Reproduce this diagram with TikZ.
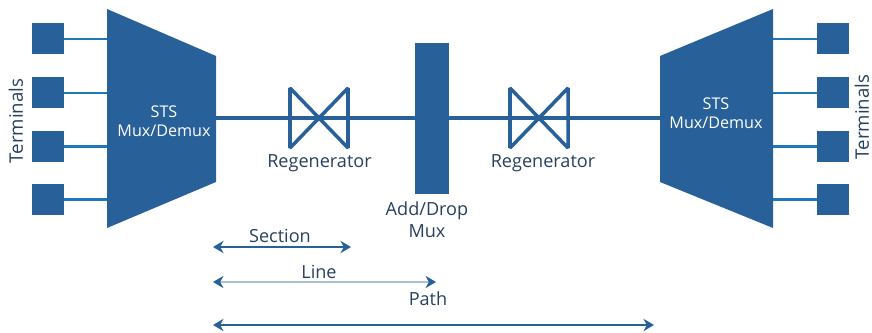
\documentclass[tikz,border=0pt]{standalone}
\usepackage{fontspec}
\setmainfont{Open Sans}
\usetikzlibrary{arrows.meta, positioning}
\definecolor{sonetblue}{HTML}{28609A}
\definecolor{termblue}{HTML}{1F78BC}
\definecolor{textgrey}{HTML}{27405E}
\begin{document}
\begin{tikzpicture}[x=0.02cm, y=-0.02cm]
	\useasboundingbox (0,0) rectangle (872,333);

	% styles for all parts
	\tikzset{
		every node/.style={font=\fontsize{10.3pt}{12pt}\selectfont, text=textgrey, inner sep=0pt},
		termbox/.style={fill=sonetblue, minimum width=0.64cm, minimum height=0.62cm},
		termline/.style={line width=1.2pt, termblue},
		mainline/.style={line width=2pt, sonetblue},
		spanline/.style={sonetblue, {Stealth[length=6pt, width=7pt]}-{Stealth[length=6pt, width=7pt]}},
		muxlabel/.style={text=white, align=center, font=\fontsize{9.2pt}{11pt}\selectfont},
	}

	% multiplexers
	\coordinate (muxlin) at (107,118);
	\coordinate (muxlout) at (216,118);
	\coordinate (muxrin) at (660,118);
	\coordinate (muxrout) at (773,118);
	\fill[sonetblue] (107,9) -- (216,56) -- (216,182) -- (107,228) -- cycle;
	\fill[sonetblue] (660,56) -- (773,9) -- (773,228) -- (660,182) -- cycle;
	\node[muxlabel] (muxltext) at (164,121) {STS\\Mux/Demux};
	\node[muxlabel] (muxrtext) at (716,113) {STS\\Mux/Demux};

	% terminals, left and right
	\foreach \n/\y in {1/39,2/93,3/146.5,4/199.5} {
		\node[termbox] (terml\n) at (48,\y) {};
		\node[termbox] (termr\n) at (833,\y) {};
		\draw[termline] (terml\n) -- (terml\n -| muxlin);
		\draw[termline] (termr\n) -- (termr\n -| muxrout);
	}
	\node[rotate=90, font=\fontsize{10.6pt}{12pt}\selectfont] (termltext) at (16,121) {Terminals};
	\node[rotate=90, font=\fontsize{10.6pt}{12pt}\selectfont] (termrtext) at (862,117) {Terminals};

	% add/drop mux
	\node[fill=sonetblue, minimum width=0.68cm, minimum height=3.02cm] (adm) at (432,118.5) {};
	\node[align=center, font=\fontsize{10.3pt}{12.5pt}\selectfont] (admtext) at (427,220) {Add/Drop\\Mux};
	\draw[mainline] (muxlout) -- (muxlout -| adm.west);
	\draw[mainline] (muxrin -| adm.east) -- (muxrin);

	% regenerators
	\foreach \n/\x/\t in {a/319/319.5,b/539/543} {
		\coordinate (reg\n) at (\x,118);
		\draw[mainline, miter limit=2] (reg\n) ++(-29,-30) -- ++(58,60) -- ++(0,-60) -- ++(-58,60) -- cycle;
		\node (regtext\n) at (\t,163) {Regenerator};
	}

	% section, line, path
	\coordinate (sectionl) at (213,247);
	\coordinate (sectionr) at (351,247);
	\coordinate (linel) at (213,282);
	\coordinate (liner) at (436,282);
	\coordinate (pathl) at (213,325);
	\coordinate (pathr) at (654,325);
	\draw[spanline, line width=1.1pt] (sectionl) -- (sectionr);
	\draw[spanline, line width=0.6pt, draw=sonetblue!40, {Stealth[length=6pt, width=7pt, sonetblue]}-{Stealth[length=6pt, width=7pt, sonetblue]}] (linel) -- (liner);
	\draw[spanline, line width=1.1pt] (pathl) -- (pathr);
	\node (sectiontext) at (280,236) {Section};
	\node (linetext) at (319,272) {Line};
	\node (pathtext) at (428,299) {Path};
\end{tikzpicture}
\end{document}
